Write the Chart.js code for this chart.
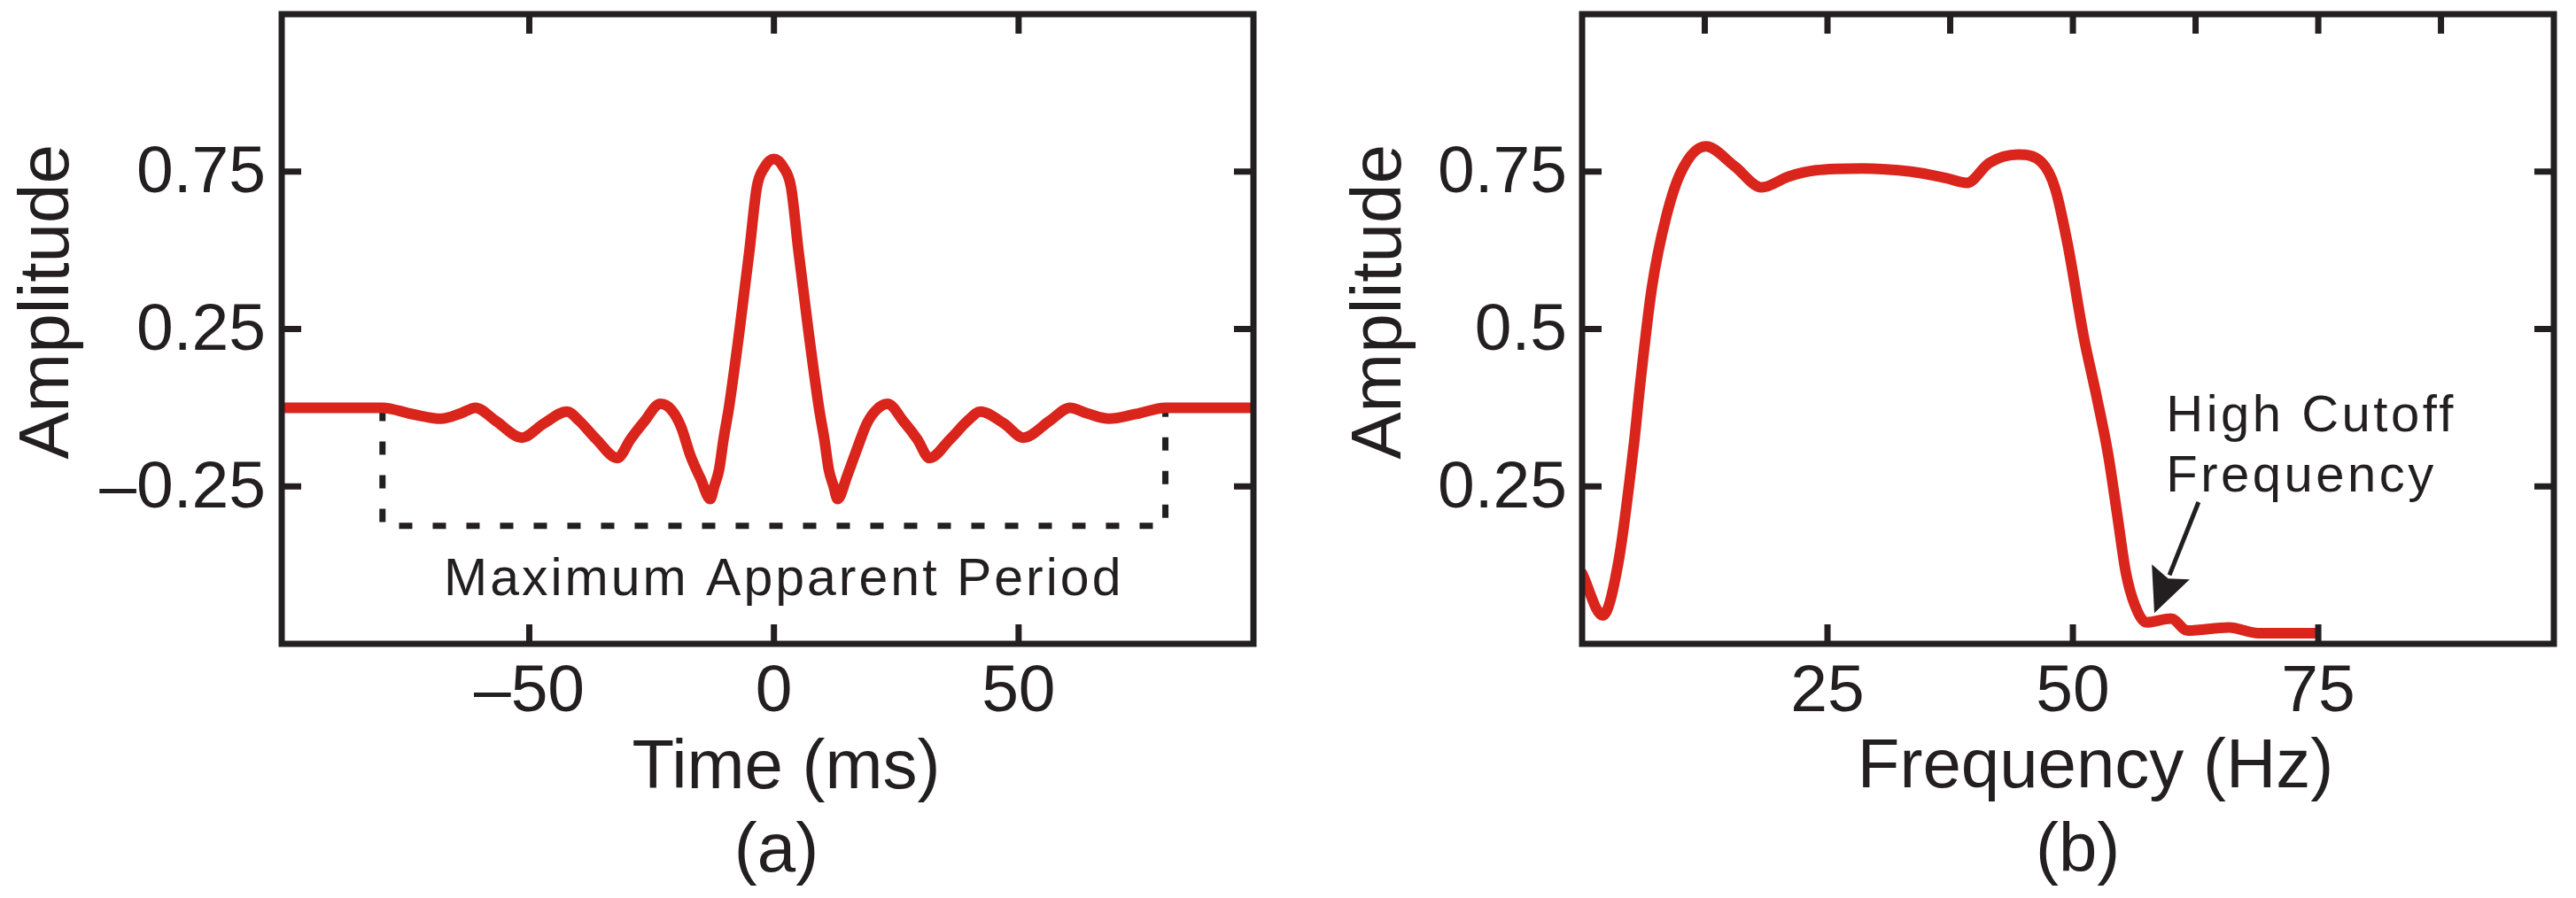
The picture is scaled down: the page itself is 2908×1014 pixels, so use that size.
<!DOCTYPE html>
<html><head><meta charset="utf-8">
<script src="https://cdn.jsdelivr.net/npm/chart.js@4.4.1/dist/chart.umd.min.js"></script>
<style>
html,body{margin:0;padding:0;background:#fff;}
#wrap{position:relative;width:2908px;height:1014px;background:#fff;}
canvas{position:absolute;top:0;}
#c1{left:0;}
#c2{left:1454px;}
</style></head><body>
<div id="wrap"><canvas id="c1" width="1454" height="1014"></canvas><canvas id="c2" width="1454" height="1014"></canvas></div>
<script>
// ---------- (a) time-domain wavelet ----------
const timeMs  = [-100.6,-80,-74,-68,-64,-61,-57,-51.5,-47,-42.3,-39.9,-36.3,-32,-29.3,-26.6,-23.2,-21,-19,-17,-15,-13,-12.2,-11.2,-10.3,-9.2,-7,-5,-3.5,-2,0,2,3.5,5,7,9.2,10.3,11.2,12.2,13,15,17,19,21,23.2,26.6,29.3,31.8,36,39.7,42.2,47,51,56.5,60.5,64,68.5,74,80,98];
const timeAmp = [0,0,-0.02,-0.035,-0.018,0,-0.04,-0.095,-0.05,-0.012,-0.04,-0.10,-0.16,-0.10,-0.046,0.012,-0.006,-0.06,-0.155,-0.225,-0.29,-0.25,-0.196,-0.10,0,0.25,0.5,0.70,0.762,0.79,0.762,0.70,0.5,0.25,0,-0.10,-0.196,-0.25,-0.29,-0.215,-0.13,-0.05,-0.006,0.012,-0.046,-0.10,-0.16,-0.10,-0.04,-0.012,-0.05,-0.095,-0.04,0,-0.018,-0.035,-0.02,0,0];
const periodBoxT   = [-80,-80,80,80];
const periodBoxAmp = [0,-0.375,-0.375,0];
const timeTickValues = [-50,0,50];
const timeTickLabels = ['\u201350','0','50'];
const timeAmpTickValues = [-0.25,0.25,0.75];
const timeAmpTickLabels = ['\u20130.25','0.25','0.75'];

// ---------- (b) amplitude spectrum ----------
const freqHz  = [0,2.1,3.7,5.3,5.9,7.1,8.55,10.1,12.6,15.5,18.3,21,23.8,28.5,33.5,37,39.2,41.5,44.4,46.8,48.2,49.5,51.1,52.4,53.6,54.5,55.4,56.3,57.5,60,61.7,65.9,68.9,74.6];
const freqAmp = [0.112,0.045,0.13,0.32,0.41,0.565,0.677,0.75,0.79,0.759,0.725,0.742,0.752,0.755,0.75,0.74,0.732,0.764,0.777,0.765,0.723,0.632,0.488,0.394,0.30,0.207,0.113,0.062,0.034,0.04,0.021,0.026,0.017,0.017];
const freqTickValues = [25,50,75];
const freqTickLabels = ['25','50','75'];
const freqTopTickValues = [12.5,25,37.5,50,62.5,75,87.5];
const freqAmpTickValues = [0.25,0.5,0.75];
const freqAmpTickLabels = ['0.25','0.5','0.75'];

const INK = '#231f20';
const RED = '#da251d';
const FONT = '"Liberation Sans", Arial, Helvetica, sans-serif';

const decor = {
  id: 'figureDecor',
  afterDatasetsDraw(chart, args, o) {
    const ctx = chart.ctx, a = chart.chartArea, xs = chart.scales.x, ys = chart.scales.y;
    ctx.save();
    if (o.arrow) {
      const x1 = xs.getPixelForValue(o.arrow.from[0]), y1 = ys.getPixelForValue(o.arrow.from[1]);
      const x2 = xs.getPixelForValue(o.arrow.to[0]),   y2 = ys.getPixelForValue(o.arrow.to[1]);
      const L = Math.hypot(x2 - x1, y2 - y1), ux = (x2 - x1) / L, uy = (y2 - y1) / L;
      const hl = o.arrow.headLen, hw = o.arrow.headHalf;
      const bx = x2 - ux * hl, by = y2 - uy * hl;
      ctx.strokeStyle = INK; ctx.fillStyle = INK; ctx.lineWidth = o.arrow.width;
      ctx.beginPath(); ctx.moveTo(x1, y1); ctx.lineTo(bx + ux * 4, by + uy * 4); ctx.stroke();
      ctx.beginPath(); ctx.moveTo(x2, y2);
      ctx.lineTo(bx - uy * hw, by + ux * hw);
      ctx.lineTo(bx + ux * 8, by + uy * 8);
      ctx.lineTo(bx + uy * hw, by - ux * hw);
      ctx.closePath(); ctx.fill();
    }
    ctx.strokeStyle = INK; ctx.lineWidth = 7; ctx.lineCap = 'butt'; ctx.lineJoin = 'miter';
    ctx.strokeRect(a.left, a.top, a.right - a.left, a.bottom - a.top);
    const tl = o.tickLen;
    ctx.beginPath();
    o.bottomTicks.forEach(v => { const x = xs.getPixelForValue(v); ctx.moveTo(x, a.bottom); ctx.lineTo(x, a.bottom - tl); });
    o.topTicks.forEach(v => { const x = xs.getPixelForValue(v); ctx.moveTo(x, a.top); ctx.lineTo(x, a.top + tl); });
    o.leftTicks.forEach(v => { const y = ys.getPixelForValue(v); ctx.moveTo(a.left, y); ctx.lineTo(a.left + tl, y); });
    o.rightTicks.forEach(v => { const y = ys.getPixelForValue(v); ctx.moveTo(a.right, y); ctx.lineTo(a.right - tl, y); });
    ctx.stroke();
    o.texts.forEach(t => {
      ctx.font = t.size + 'px ' + FONT;
      ctx.fillStyle = INK;
      ctx.textAlign = t.align || 'center';
      ctx.textBaseline = 'alphabetic';
      if ('letterSpacing' in ctx) ctx.letterSpacing = (t.spacing || 0) + 'px';
      const x = t.xv !== undefined ? xs.getPixelForValue(t.xv) : t.x;
      const y = t.yv !== undefined ? ys.getPixelForValue(t.yv) : t.y;
      if (t.rotate) {
        ctx.save(); ctx.translate(x, y); ctx.rotate(-Math.PI / 2); ctx.fillText(t.text, 0, 0); ctx.restore();
      } else {
        ctx.fillText(t.text, x, y);
      }
      if ('letterSpacing' in ctx) ctx.letterSpacing = '0px';
    });
    ctx.restore();
  }
};

function tickScale(values, labels, extra) {
  return Object.assign({
    type: 'linear',
    grid: { display: false, drawTicks: false },
    border: { display: false },
    afterBuildTicks: s => { s.ticks = values.map(v => ({ value: v })); },
    ticks: {
      autoSkip: false, maxRotation: 0, minRotation: 0,
      callback: v => labels[values.indexOf(v)],
      color: INK,
      font: { family: FONT, size: 75, lineHeight: 1.2 }
    }
  }, extra);
}

function fixSize(prop, px) {
  return s => {
    s[prop] = px;
    s.paddingTop = 0; s.paddingBottom = 0; s.paddingLeft = 0; s.paddingRight = 0;
  };
}

function baseOptions(padRight, xs, ys, decorOpts) {
  return {
    responsive: false, animation: false, devicePixelRatio: 1,
    layout: { padding: { left: 0, right: padRight, top: 16, bottom: 0 } },
    plugins: { legend: { display: false }, tooltip: { enabled: false }, figureDecor: decorOpts },
    scales: { x: xs, y: ys }
  };
}

// chart (a)
const xa = tickScale(timeTickValues, timeTickLabels, { min: -100.6, max: 98, afterFit: fixSize('height', 287) });
xa.ticks.padding = 10;
const ya = tickScale(timeAmpTickValues, timeAmpTickLabels, { min: -0.75, max: 1.25, afterFit: fixSize('width', 318) });
ya.ticks.padding = 18; ya.ticks.labelOffset = 3;

new Chart(document.getElementById('c1'), {
  type: 'line',
  data: { datasets: [
    { data: timeMs.map((t, i) => ({ x: t, y: timeAmp[i] })), borderColor: RED, borderWidth: 12, pointRadius: 0,
      cubicInterpolationMode: 'monotone', borderCapStyle: 'round', borderJoinStyle: 'round' },
    { data: periodBoxT.map((t, i) => ({ x: t, y: periodBoxAmp[i] })), borderColor: INK, borderWidth: 7, pointRadius: 0,
      tension: 0, borderDash: [15, 23], borderCapStyle: 'butt', borderJoinStyle: 'miter' }
  ]},
  options: baseOptions(39, xa, ya, {
    tickLen: 22,
    bottomTicks: timeTickValues, topTicks: timeTickValues,
    leftTicks: timeAmpTickValues, rightTicks: timeAmpTickValues,
    texts: [
      { text: 'Amplitude', size: 80, rotate: true, x: 77, y: 341 },
      { text: 'Time (ms)', size: 78, xv: 2.5, y: 890 },
      { text: '(a)', size: 78, xv: 0.5, y: 984 },
      { text: 'Maximum Apparent Period', size: 59, spacing: 3, xv: 2, yv: -0.595 }
    ]
  }),
  plugins: [decor]
});

// chart (b)
const xb = tickScale(freqTickValues, freqTickLabels, { min: 0, max: 99, afterFit: fixSize('height', 287) });
xb.ticks.padding = 10;
const yb = tickScale(freqAmpTickValues, freqAmpTickLabels, { min: 0, max: 1, afterFit: fixSize('width', 332) });
yb.ticks.padding = 17; yb.ticks.labelOffset = 3;

new Chart(document.getElementById('c2'), {
  type: 'line',
  data: { datasets: [
    { data: freqHz.map((f, i) => ({ x: f, y: freqAmp[i] })), borderColor: RED, borderWidth: 12, pointRadius: 0,
      cubicInterpolationMode: 'monotone', borderCapStyle: 'round', borderJoinStyle: 'round' }
  ]},
  options: baseOptions(25, xb, yb, {
    tickLen: 22,
    bottomTicks: freqTickValues, topTicks: freqTopTickValues,
    leftTicks: freqAmpTickValues, rightTicks: freqAmpTickValues,
    arrow: { from: [62.8, 0.225], to: [58.3, 0.049], width: 5, headLen: 50, headHalf: 23 },
    texts: [
      { text: 'Amplitude', size: 80, rotate: true, x: 127, y: 341 },
      { text: 'Frequency (Hz)', size: 78, xv: 52.3, y: 889 },
      { text: '(b)', size: 78, xv: 50.5, y: 984 },
      { text: 'High Cutoff', size: 58, spacing: 3.5, align: 'left', xv: 59.5, yv: 0.338 },
      { text: 'Frequency', size: 58, spacing: 3.5, align: 'left', xv: 59.5, yv: 0.242 }
    ]
  }),
  plugins: [decor]
});
</script>
</body></html>
